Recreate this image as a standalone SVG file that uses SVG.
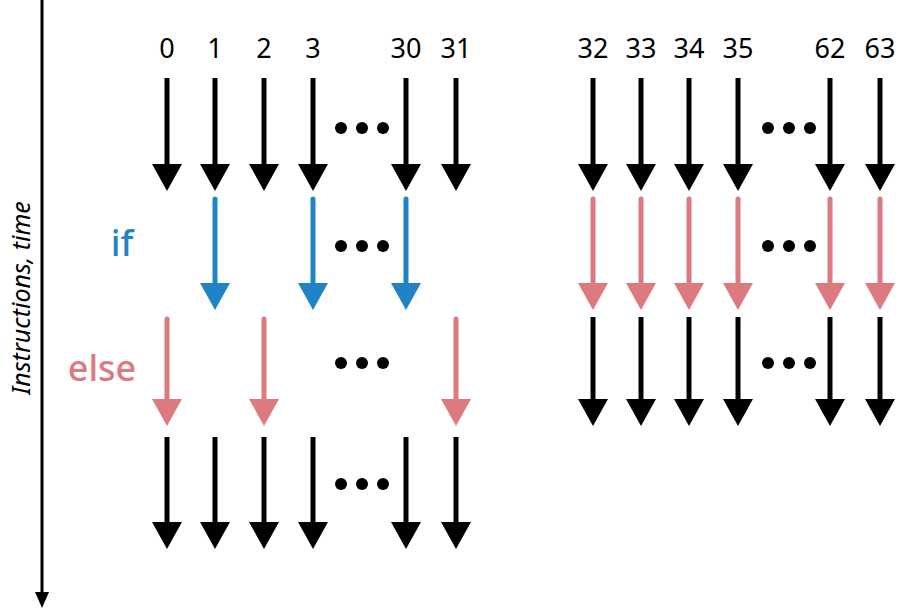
<svg xmlns="http://www.w3.org/2000/svg" width="901" height="610" viewBox="0 0 901 610">
<style>
text{font-family:"Noto Sans","Liberation Sans",sans-serif}
.n{font-size:27px;text-anchor:middle;fill:#000}
.k{stroke:#000;stroke-width:5;fill:none;marker-end:url(#hk)}
.b{stroke:#1f83c6;stroke-width:5;stroke-linecap:round;fill:none;marker-end:url(#hb)}
.p{stroke:#dc7a80;stroke-width:5;stroke-linecap:round;fill:none;marker-end:url(#hp)}
.d{fill:#000}
</style>
<defs>
<marker id="hk" markerUnits="userSpaceOnUse" viewBox="0 -15 27 30" refX="0" refY="0" markerWidth="27" markerHeight="30" orient="auto"><path d="M0,-15L27,0L0,15z" fill="#000"/></marker>
<marker id="hb" markerUnits="userSpaceOnUse" viewBox="0 -15 27 30" refX="0" refY="0" markerWidth="27" markerHeight="30" orient="auto"><path d="M0,-15L27,0L0,15z" fill="#1f83c6"/></marker>
<marker id="hp" markerUnits="userSpaceOnUse" viewBox="0 -15 27 30" refX="0" refY="0" markerWidth="27" markerHeight="30" orient="auto"><path d="M0,-15L27,0L0,15z" fill="#dc7a80"/></marker>
<marker id="ht" markerUnits="userSpaceOnUse" viewBox="0 -8 16 16" refX="0" refY="0" markerWidth="16" markerHeight="16" orient="auto"><path d="M0,-7L16,0L0,7z" fill="#000"/></marker>
</defs>
<g id="time">
<line x1="42" y1="0" x2="42" y2="592" stroke="#000" stroke-width="3" marker-end="url(#ht)"/>
<text transform="translate(30,298) rotate(-90)" font-size="25" font-style="italic" text-anchor="middle">Instructions, time</text>
</g>
<g id="labels">
<text class="n" x="167" y="58">0</text><text class="n" x="215" y="58">1</text><text class="n" x="264" y="58">2</text><text class="n" x="313" y="58">3</text><text class="n" x="406" y="58">30</text><text class="n" x="456" y="58">31</text>
<text class="n" x="593" y="58">32</text><text class="n" x="641" y="58">33</text><text class="n" x="689" y="58">34</text><text class="n" x="738" y="58">35</text><text class="n" x="830" y="58">62</text><text class="n" x="880" y="58">63</text>
<text x="122" y="256" font-size="36" font-weight="500" fill="#1f83c6" text-anchor="middle">if</text>
<text x="102" y="381" font-size="36" font-weight="500" fill="#dc7a80" text-anchor="middle">else</text>
</g>
<g id="connectors">
<path class="k" d="M167,78V164"/><path class="k" d="M215,78V164"/><path class="k" d="M264,78V164"/><path class="k" d="M313,78V164"/><path class="k" d="M406,78V164"/><path class="k" d="M456,78V164"/>
<path class="k" d="M593,78V164"/><path class="k" d="M641,78V164"/><path class="k" d="M689,78V164"/><path class="k" d="M738,78V164"/><path class="k" d="M830,78V164"/><path class="k" d="M880,78V164"/>
<path class="b" d="M215,199V283"/><path class="b" d="M313,199V283"/><path class="b" d="M406,199V283"/>
<path class="p" d="M167,319V399"/><path class="p" d="M264,319V399"/><path class="p" d="M456,319V399"/>
<path class="k" d="M167,437V522"/><path class="k" d="M215,437V522"/><path class="k" d="M264,437V522"/><path class="k" d="M313,437V522"/><path class="k" d="M406,437V522"/><path class="k" d="M456,437V522"/>
<path class="p" d="M593,199V283"/><path class="p" d="M641,199V283"/><path class="p" d="M689,199V283"/><path class="p" d="M738,199V283"/><path class="p" d="M830,199V283"/><path class="p" d="M880,199V283"/>
<path class="k" d="M593,317V399"/><path class="k" d="M641,317V399"/><path class="k" d="M689,317V399"/><path class="k" d="M738,317V399"/><path class="k" d="M830,317V399"/><path class="k" d="M880,317V399"/>
</g>
<g id="dots" class="d">
<circle cx="341" cy="128" r="6"/><circle cx="362" cy="128" r="6"/><circle cx="383" cy="128" r="6"/>
<circle cx="341" cy="246" r="6"/><circle cx="362" cy="246" r="6"/><circle cx="383" cy="246" r="6"/>
<circle cx="341" cy="363" r="6"/><circle cx="362" cy="363" r="6"/><circle cx="383" cy="363" r="6"/>
<circle cx="341" cy="484" r="6"/><circle cx="362" cy="484" r="6"/><circle cx="383" cy="484" r="6"/>
<circle cx="768" cy="128" r="6"/><circle cx="789" cy="128" r="6"/><circle cx="810" cy="128" r="6"/>
<circle cx="768" cy="246" r="6"/><circle cx="789" cy="246" r="6"/><circle cx="810" cy="246" r="6"/>
<circle cx="768" cy="363" r="6"/><circle cx="789" cy="363" r="6"/><circle cx="810" cy="363" r="6"/>
</g>
</svg>
